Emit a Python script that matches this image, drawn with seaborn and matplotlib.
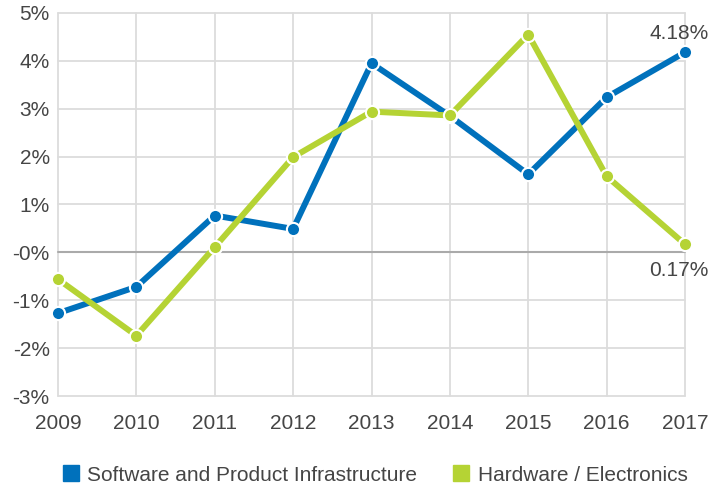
import matplotlib
matplotlib.use("Agg")
import matplotlib.pyplot as plt
import seaborn as sns
import pandas as pd
from matplotlib.lines import Line2D

years = [2009, 2010, 2011, 2012, 2013, 2014, 2015, 2016, 2017]
software = [-1.27, -0.72, 0.77, 0.49, 3.95, 2.85, 1.63, 3.24, 4.18]
hardware = [-0.56, -1.74, 0.11, 1.99, 2.94, 2.86, 4.55, 1.59, 0.17]
series_names = ["Software and Product Infrastructure", "Hardware / Electronics"]
colors = ["#0071bc", "#b5d334"]
yticks = [-3, -2, -1, 0, 1, 2, 3, 4, 5]
ytick_labels = ["-3%", "-2%", "-1%", "-0%", "1%", "2%", "3%", "4%", "5%"]

df = pd.DataFrame({
    "year": years * 2,
    "value": software + hardware,
    "series": [series_names[0]] * len(years) + [series_names[1]] * len(years),
})

sns.set_style("white")
plt.rcParams["font.family"] = ["Liberation Sans", "DejaVu Sans"]
text_color = "#454545"
fs = 15

fig = plt.figure(figsize=(7.26, 4.90), dpi=100)
ax = fig.add_axes([58 / 726, 1 - 396 / 490, (685 - 58) / 726, (396 - 13) / 490])

for x in years:
    ax.axvline(x, color="#dcdcdc", lw=1.3, zorder=0)
for y in yticks:
    ax.axhline(y, color="#aaaaaa" if y == 0 else "#dcdcdc", lw=1.5 if y == 0 else 1.3, zorder=0)

sns.lineplot(data=df, x="year", y="value", hue="series", palette=colors,
             hue_order=series_names, marker="o", markersize=9.5, markeredgecolor="white",
             markeredgewidth=1.5, linewidth=4.3, ax=ax, legend=False, zorder=3)
for line in ax.lines:
    line.set_clip_on(False)

ax.set_xlim(2009, 2017)
ax.set_ylim(-3, 5)
ax.set_xticks(years)
ax.set_xticklabels([str(y) for y in years])
ax.set_yticks(yticks)
ax.set_yticklabels(ytick_labels)
ax.tick_params(axis="both", length=0, labelsize=fs, colors=text_color)
ax.tick_params(axis="x", pad=13)
ax.tick_params(axis="y", pad=6)
ax.set_xlabel("")
ax.set_ylabel("")
for s in ax.spines.values():
    s.set_visible(False)

ax.annotate(f"{software[-1]:.2f}%", (years[-1], software[-1]), xytext=(17, 7),
            textcoords="offset points", ha="right", va="bottom", fontsize=fs, color=text_color)
ax.annotate(f"{hardware[-1]:.2f}%", (years[-1], hardware[-1]), xytext=(17, -12),
            textcoords="offset points", ha="right", va="top", fontsize=fs, color=text_color)

handles = [Line2D([0], [0], marker="s", linestyle="", color=c, markersize=11) for c in colors]
fig.legend(handles, series_names, loc="center", bbox_to_anchor=(0.515, 1 - 475 / 490), ncol=2,
           frameon=False, fontsize=fs, handletextpad=0.3, columnspacing=1.6, labelcolor=text_color,
           handlelength=1.0)

fig.savefig("out.png", dpi=100)
